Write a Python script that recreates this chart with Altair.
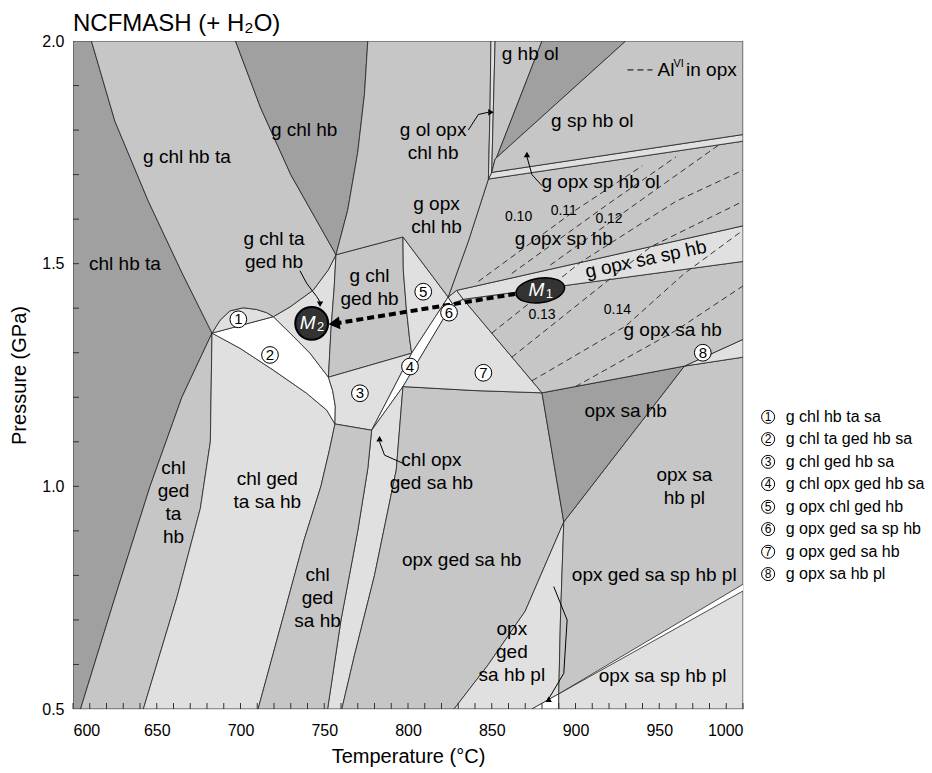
import altair as alt
import pandas as pd

# ---------------- axes ----------------
T_DOMAIN = [600, 1000]
P_DOMAIN = [0.5, 2.0]
T_LABELS = [600, 650, 700, 750, 800, 850, 900, 950, 1000]
P_LABELS = [0.5, 1.0, 1.5, 2.0]
T_MINOR = list(range(600, 1001, 10))
P_MINOR = [0.6, 0.7, 0.8, 0.9, 1.0, 1.1, 1.2, 1.3, 1.4, 1.5, 1.6, 1.7, 1.8, 1.9]

SHADES = ["dark", "mid", "light", "white"]
SHADE_COLORS = ["#a0a0a0", "#c6c6c6", "#e0e0e0", "#ffffff"]

# ---------------- fields (T degC, P GPa) ----------------
chl_hb_ta = [(600, 2.0), (611, 2.0), (625, 1.82), (645, 1.64), (665, 1.48), (683, 1.344),
             (665, 1.2), (646, 1.0), (625, 0.75), (604.5, 0.5), (600, 0.5)]
chl_ged_ta_hb = [(683, 1.344), (665, 1.2), (646, 1.0), (625, 0.75), (604.5, 0.5),
                 (642, 0.5), (662, 0.75), (676, 0.95), (682, 1.1)]
chl_ged_ta_sa_hb = [(683, 1.344), (682, 1.1), (676, 0.95), (662, 0.75), (642, 0.5),
                    (710.5, 0.5), (725, 0.7), (738, 0.88), (748, 1.0), (753, 1.08), (756.4, 1.14),
                    (751.5, 1.171), (739.5, 1.209), (719.6, 1.261), (699.7, 1.31)]
f2 = [(683, 1.344), (699.7, 1.31), (719.6, 1.261), (739.5, 1.209), (751.5, 1.171), (756.4, 1.14),
      (756.6, 1.18), (755, 1.215), (752.5, 1.245), (741.5, 1.299), (729.6, 1.344), (719.6, 1.381)]
f1 = [(683, 1.344), (687.8, 1.373), (693.7, 1.394), (701.7, 1.401), (709.7, 1.397),
      (715.6, 1.39), (719.6, 1.381)]
g_chl_ta_ged_hb = [(719.6, 1.381), (729.6, 1.403), (743.5, 1.441), (752.4, 1.486), (757, 1.52),
                   (756, 1.45), (754, 1.35), (752.5, 1.245), (741.5, 1.299), (729.6, 1.344)]
g_chl_hb_ta = [(611, 2.0), (697, 2.0), (712, 1.85), (730, 1.70), (745, 1.60), (757, 1.52),
               (752.4, 1.486), (743.5, 1.441), (729.6, 1.403), (719.6, 1.381), (715.6, 1.39),
               (709.7, 1.397), (701.7, 1.401), (693.7, 1.394), (687.8, 1.373), (683, 1.344),
               (665, 1.48), (645, 1.64), (625, 1.82)]
g_chl_hb = [(697, 2.0), (776, 2.0), (774, 1.88), (770, 1.75), (764, 1.62), (757, 1.52),
            (745, 1.60), (730, 1.70), (712, 1.85)]
g_chl_ged_hb = [(757, 1.52), (797, 1.56), (797.2, 1.486), (799, 1.40), (801, 1.33), (802.2, 1.299),
                (752.5, 1.245), (754, 1.35), (756, 1.45)]
f5 = [(797, 1.56), (824, 1.425), (802.2, 1.299), (801, 1.33), (799, 1.40), (797.2, 1.486)]
f3 = [(752.5, 1.245), (802.2, 1.299), (778.3, 1.126), (756.4, 1.14), (756.6, 1.18), (755, 1.215)]
f4 = [(778.3, 1.126), (802.2, 1.299), (824, 1.425), (826.5, 1.41), (797, 1.224)]
chl_opx_ged_sa_hb = [(778.3, 1.126), (797, 1.224), (793, 1.037), (780, 0.8), (768, 0.62),
                     (760.5, 0.5), (752, 0.5), (760, 0.7), (770, 0.9), (776, 1.04)]
chl_ged_sa_hb = [(756.4, 1.14), (778.3, 1.126), (776, 1.04), (770, 0.9), (760, 0.7), (752, 0.5),
                 (710.5, 0.5), (725, 0.7), (738, 0.88), (748, 1.0), (753, 1.08)]
opx_ged_sa_hb = [(797, 1.224), (840, 1.215), (880, 1.21), (893, 0.92), (870, 0.72), (848, 0.6),
                 (827.5, 0.5), (760.5, 0.5), (768, 0.62), (780, 0.8), (793, 1.037)]
opx_ged_sa_hb_pl = [(893, 0.92), (891, 0.7), (890, 0.534), (874, 0.5), (827.5, 0.5), (848, 0.6),
                    (870, 0.72)]
wedge_sp_pl = [(874, 0.5), (890, 0.5), (890, 0.534)]
opx_sa_sp_hb_pl = [(890, 0.5), (1000, 0.5), (1000, 0.765), (890, 0.534)]
opx_sa_hb_pl = [(893, 0.92), (965, 1.27), (1000, 1.29), (1000, 0.78), (890, 0.534), (891, 0.7)]
opx_sa_hb = [(880, 1.21), (965, 1.27), (893, 0.92)]
f8 = [(965, 1.27), (1000, 1.33), (1000, 1.29)]
f7 = [(797, 1.224), (826.5, 1.41), (833, 1.42), (880, 1.21), (840, 1.215)]
f6 = [(824, 1.425), (829, 1.44), (833, 1.42), (826.5, 1.41)]
g_opx_sa_hb = [(833, 1.42), (1000, 1.505), (1000, 1.33), (965, 1.27), (880, 1.21)]
g_opx_sa_sp_hb = [(829, 1.44), (1000, 1.585), (1000, 1.505), (833, 1.42)]
g_opx_sp_hb = [(824, 1.425), (836, 1.55), (848, 1.69), (1000, 1.775), (1000, 1.585), (829, 1.44)]
g_opx_sp_hb_ol = [(848, 1.69), (1000, 1.775), (1000, 1.79), (850, 1.705)]
g_opx_chl_hb = [(776, 2.0), (849.5, 2.0), (849, 1.85), (848, 1.69), (836, 1.55), (824, 1.425),
                (797, 1.56), (757, 1.52), (764, 1.62), (770, 1.75), (774, 1.88)]
g_ol_opx_chl_hb = [(849.5, 2.0), (852, 2.0), (850, 1.705), (848, 1.69), (849, 1.85)]
g_hb_ol = [(852, 2.0), (880, 2.0), (851, 1.72), (850, 1.705)]
g_hb_ol_dark = [(880, 2.0), (930, 2.0), (852, 1.735), (851, 1.72)]
g_sp_hb_ol = [(930, 2.0), (1000, 2.0), (1000, 1.79), (850, 1.705), (851, 1.72), (852, 1.735)]

FIELDS = [
    ("chl hb ta", "dark", chl_hb_ta), ("chl ged ta hb", "mid", chl_ged_ta_hb),
    ("chl ged ta sa hb", "light", chl_ged_ta_sa_hb), ("2", "white", f2), ("1", "light", f1),
    ("g chl ta ged hb", "light", g_chl_ta_ged_hb), ("g chl hb ta", "mid", g_chl_hb_ta),
    ("g chl hb", "dark", g_chl_hb), ("g chl ged hb", "mid", g_chl_ged_hb), ("5", "light", f5),
    ("3", "light", f3), ("4", "white", f4), ("chl opx ged sa hb", "light", chl_opx_ged_sa_hb),
    ("chl ged sa hb", "mid", chl_ged_sa_hb), ("opx ged sa hb", "mid", opx_ged_sa_hb),
    ("opx ged sa hb pl", "light", opx_ged_sa_hb_pl), ("opx ged sa sp hb pl", "white", wedge_sp_pl),
    ("opx sa sp hb pl", "light", opx_sa_sp_hb_pl), ("opx sa hb pl", "mid", opx_sa_hb_pl),
    ("opx sa hb", "dark", opx_sa_hb), ("8", "light", f8), ("7", "light", f7), ("6", "light", f6),
    ("g opx sa hb", "mid", g_opx_sa_hb), ("g opx sa sp hb", "light", g_opx_sa_sp_hb),
    ("g opx sp hb", "mid", g_opx_sp_hb), ("g opx sp hb ol", "light", g_opx_sp_hb_ol),
    ("g opx chl hb", "mid", g_opx_chl_hb), ("g ol opx chl hb", "light", g_ol_opx_chl_hb),
    ("g hb ol", "mid", g_hb_ol), ("g hb ol dark", "dark", g_hb_ol_dark),
    ("g sp hb ol", "mid", g_sp_hb_ol),
]

# Al(VI) in opx isopleths
ISO_LINES = [
    [(842, 1.46), (900, 1.62), (940, 1.72)],
    [(862, 1.478), (918, 1.63), (960, 1.74)],
    [(885, 1.497), (940, 1.645), (985, 1.765)],
    [(850, 1.344), (884, 1.446), (903, 1.503), (960, 1.64), (1000, 1.71)],
    [(862, 1.29), (920, 1.464), (945, 1.538), (1000, 1.64)],
    [(874, 1.237), (930, 1.36), (965, 1.478), (1000, 1.575)],
    [(900, 1.224), (960, 1.35), (1000, 1.45)],
]
ISO_LABELS = [("0.10", 866, 1.605), ("0.11", 893, 1.618), ("0.12", 920, 1.600),
              ("0.13", 880, 1.385), ("0.14", 925, 1.395)]

# field labels (position = first line)
LABELS = [
    ("chl hb ta", 631, 1.50), ("g chl hb ta", 668, 1.74), ("g chl hb", 738, 1.80),
    ("g ol opx\nchl hb", 815, 1.80), ("g opx\nchl hb", 817, 1.635), ("g hb ol", 873, 1.97),
    ("g sp hb ol", 910, 1.82), ("g opx sp hb ol", 915, 1.683), ("g opx sp hb", 893, 1.555),
    ("g chl ta\nged hb", 720, 1.555), ("g chl\nged hb", 777, 1.472), ("g opx sa hb", 958, 1.35),
    ("opx sa hb", 930, 1.17), ("opx sa\nhb pl", 965, 1.026), ("chl opx\nged sa hb", 814, 1.06),
    ("chl\nged\nta\nhb", 660, 1.042), ("chl ged\nta sa hb", 716, 1.016),
    ("chl\nged\nsa hb", 746, 0.80), ("opx ged sa hb", 832, 0.835),
    ("opx ged sa sp hb pl", 947, 0.80), ("opx\nged\nsa hb pl", 862, 0.68),
    ("opx sa sp hb pl", 952, 0.575),
]
ROT_LABELS = [("g opx sa sp hb", 942, 1.51)]

CIRCLES = [("1", 698.7, 1.375), ("2", 717.6, 1.295), ("3", 771.3, 1.209), ("4", 801.2, 1.269),
           ("5", 809.1, 1.437), ("6", 824.5, 1.39), ("7", 845, 1.255), ("8", 976, 1.30)]

LEGEND_NUM = ["1", "2", "3", "4", "5", "6", "7", "8"]
LEGEND_TXT = ["g chl hb ta sa", "g chl ta ged hb sa", "g chl ged hb sa", "g chl opx ged hb sa",
              "g opx chl ged hb", "g opx ged sa sp hb", "g opx ged sa hb", "g opx sa hb pl"]
LEGEND_P = [1.156, 1.106, 1.055, 1.005, 0.954, 0.904, 0.853, 0.803]
LEGEND_T_CIRCLE = 1015
LEGEND_T_TEXT = 1025.5

ARROWS = [
    [(735.5, 1.484), (739.5, 1.456), (745.5, 1.426), (747.5, 1.414)],
    [(836, 1.80), (842, 1.835), (848, 1.84)],
    [(880, 1.675), (874, 1.70), (871, 1.74)],
    [(798, 1.05), (786, 1.07), (783, 1.10)],
    [(887, 0.775), (895, 0.70), (893, 0.58), (884, 0.523)],
]
ARROW_HEADS = [(747.5, 1.411, 180), (849, 1.84, 90), (871, 1.743, 0), (783, 1.105, 0),
               (884, 0.52, 240)]

M_PATH = [(864, 1.432), (757, 1.366)]
M_POINTS = [("M", "1", 879, 1.44), ("M", "2", 742.5, 1.366)]
ELLIPSE = "M -1 0 A 1 0.5 0 1 0 1 0 A 1 0.5 0 1 0 -1 0 Z"

FONT = "Liberation Sans"

# ---------------- build data ----------------
rows = []
for i, (name, shade, pts) in enumerate(FIELDS):
    for j, (t, p) in enumerate(pts):
        rows.append({"fid": f"{i:02d}", "name": name, "shade": shade, "o": j, "T": t, "P": p})
df_fields = pd.DataFrame(rows)

xs = alt.Scale(domain=T_DOMAIN, nice=False, zero=False)
ys = alt.Scale(domain=P_DOMAIN, nice=False, zero=False)
X = alt.X("T:Q", scale=xs, title="Temperature (°C)",
          axis=alt.Axis(values=T_LABELS, format="d", ticks=False, domain=False, grid=False,
                        labelFont=FONT, labelFontSize=16, labelPadding=13,
                        titleFont=FONT, titleFontSize=20, titleFontWeight="normal",
                        titlePadding=8, labelColor="black", titleColor="black"))
Y = alt.Y("P:Q", scale=ys, title="Pressure (GPa)",
          axis=alt.Axis(values=P_LABELS, format=".1f", ticks=False, domain=False,
                        grid=False, labelFont=FONT, labelFontSize=16, labelPadding=9,
                        titleFont=FONT, titleFontSize=20, titleFontWeight="normal",
                        titlePadding=12, labelColor="black", titleColor="black"))
XP = alt.X("T:Q", scale=xs)
YP = alt.Y("P:Q", scale=ys)

fields = alt.Chart(df_fields).mark_line(stroke="#222", strokeWidth=0.8, interpolate="linear-closed",
                                        clip=True).encode(
    x=X, y=Y, detail="fid:N", order="o:Q",
    fill=alt.Fill("shade:N", scale=alt.Scale(domain=SHADES, range=SHADE_COLORS), legend=None),
)

# isopleths
irows = []
for i, line in enumerate(ISO_LINES):
    for j, (t, p) in enumerate(line):
        irows.append({"lid": i, "o": j, "T": t, "P": p})
iso = alt.Chart(pd.DataFrame(irows)).mark_line(stroke="#222", strokeWidth=0.9, strokeDash=[6, 4],
                                               clip=True).encode(
    x=XP, y=YP, detail="lid:N", order="o:Q")
iso_lab = alt.Chart(pd.DataFrame(ISO_LABELS, columns=["txt", "T", "P"])).mark_text(
    font=FONT, fontSize=14, color="black").encode(x=XP, y=YP, text="txt:N")

# labels
lab = alt.Chart(pd.DataFrame(LABELS, columns=["txt", "T", "P"])).mark_text(
    font=FONT, fontSize=19, color="black", lineBreak="\n", lineHeight=23).encode(
    x=XP, y=YP, text="txt:N")
rot = alt.Chart(pd.DataFrame(ROT_LABELS, columns=["txt", "T", "P"])).mark_text(
    font=FONT, fontSize=19, color="black", angle=348).encode(x=XP, y=YP, text="txt:N")

# arrows
arows = []
for i, line in enumerate(ARROWS):
    for j, (t, p) in enumerate(line):
        arows.append({"aid": i, "o": j, "T": t, "P": p})
arr = alt.Chart(pd.DataFrame(arows)).mark_line(stroke="black", strokeWidth=1).encode(
    x=XP, y=YP, detail="aid:N", order="o:Q")
heads = alt.Chart(pd.DataFrame(ARROW_HEADS, columns=["T", "P", "a"])).mark_point(
    shape="triangle", filled=True, color="black", size=40, opacity=1).encode(
    x=XP, y=YP, angle=alt.Angle("a:Q", scale=None))

# M1 -> M2 path
mpath = alt.Chart(pd.DataFrame(M_PATH, columns=["T", "P"]).reset_index()).mark_line(
    stroke="black", strokeWidth=4, strokeDash=[7, 4]).encode(x=XP, y=YP, order="index:Q")
mhead = alt.Chart(pd.DataFrame([M_PATH[1]], columns=["T", "P"])).mark_point(
    shape="triangle", filled=True, color="black", size=170, opacity=1, angle=263).encode(x=XP, y=YP)
mdf = pd.DataFrame(M_POINTS, columns=["m", "sub", "T", "P"])
m1 = alt.Chart(mdf.iloc[[0]]).mark_point(shape=ELLIPSE, filled=True, color="#333", size=2400,
                                         opacity=1, stroke="black", strokeWidth=1.5,
                                         angle=352).encode(x=XP, y=YP)
m2 = alt.Chart(mdf.iloc[[1]]).mark_point(shape="circle", filled=True, color="#333", size=1080,
                                         opacity=1, stroke="black").encode(x=XP, y=YP)
mtxt = alt.Chart(mdf).mark_text(font=FONT, fontSize=19, fontStyle="italic", color="white",
                                dx=-4).encode(x=XP, y=YP, text="m:N")
msub = alt.Chart(mdf).mark_text(font=FONT, fontSize=13, color="white", dx=9, dy=4).encode(
    x=XP, y=YP, text="sub:N")

# circled numbers
cdf = pd.DataFrame(CIRCLES, columns=["n", "T", "P"])
circ = alt.Chart(cdf).mark_point(shape="circle", filled=True, fill="white", stroke="black",
                                 strokeWidth=1, size=280, opacity=1).encode(x=XP, y=YP)
ctxt = alt.Chart(cdf).mark_text(font=FONT, fontSize=15, color="black").encode(
    x=XP, y=YP, text="n:N")

# Al legend in plot
al = alt.Chart(pd.DataFrame({"T": [931, 946], "P": [1.935, 1.935]}).reset_index()).mark_line(
    stroke="black", strokeWidth=1, strokeDash=[6, 4]).encode(x=XP, y=YP, order="index:Q")
al_txt = alt.Chart(pd.DataFrame([("Al", 949, 1.935), ("in opx", 966, 1.935)],
                                columns=["txt", "T", "P"])).mark_text(
    font=FONT, fontSize=19, align="left", baseline="middle", color="black").encode(
    x=XP, y=YP, text="txt:N")
al_sup = alt.Chart(pd.DataFrame([("VI", 958.5, 1.948)], columns=["txt", "T", "P"])).mark_text(
    font=FONT, fontSize=11, align="left", baseline="middle", color="black").encode(
    x=XP, y=YP, text="txt:N")

# minor ticks (inside)
tick_x = alt.Chart(pd.DataFrame({"T": T_MINOR})).mark_rule(color="#333", strokeWidth=1).encode(
    x=XP, y=alt.value(668), y2=alt.value(662))
tick_y = alt.Chart(pd.DataFrame({"P": P_MINOR})).mark_rule(color="#333", strokeWidth=1).encode(
    y=YP, x=alt.value(0), x2=alt.value(6))

# side legend
ldf = pd.DataFrame({"n": LEGEND_NUM, "txt": LEGEND_TXT, "P": LEGEND_P,
                    "T": [LEGEND_T_CIRCLE] * 8, "T2": [LEGEND_T_TEXT] * 8})
lcirc = alt.Chart(ldf).mark_point(shape="circle", filled=True, fill="white", stroke="black",
                                  strokeWidth=1, size=170, opacity=1).encode(x=XP, y=YP)
lnum = alt.Chart(ldf).mark_text(font=FONT, fontSize=12, color="black").encode(
    x=XP, y=YP, text="n:N")
ltxt = alt.Chart(ldf).mark_text(font=FONT, fontSize=16, color="black", align="left").encode(
    x=alt.X("T2:Q", scale=xs), y=YP, text="txt:N")

chart = alt.layer(
    fields, iso, arr, heads, mpath, m1, m2, mhead, mtxt, msub, lab, rot, iso_lab, circ, ctxt,
    al, al_txt, al_sup, tick_x, tick_y, lcirc, lnum, ltxt,
).properties(
    width=670, height=668,
    title=alt.TitleParams("NCFMASH (+ H₂O)", anchor="start", frame="group", font=FONT,
                          fontSize=24, fontWeight="normal", color="black", offset=-3),
    autosize=alt.AutoSizeParams(type="none"),
    padding={"left": 73, "top": 41, "right": 189, "bottom": 64},
).configure_view(stroke="#222", strokeWidth=1.8).configure(background="white")

chart.save("out.html", embed_options={"renderer": "svg", "actions": False})
